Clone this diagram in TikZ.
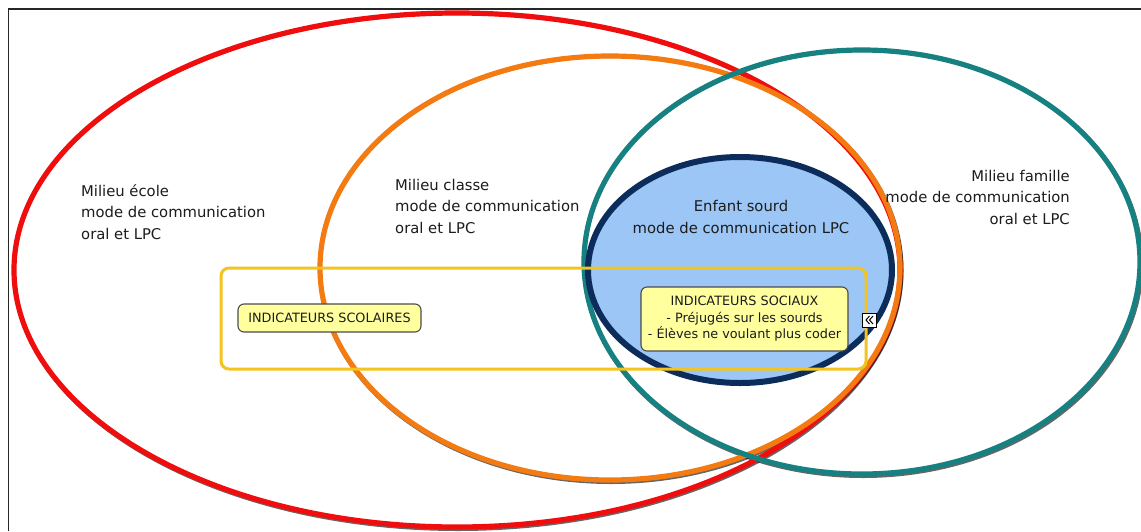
\documentclass[tikz,border=0pt]{standalone}
\usepackage{fontspec}
\setmainfont{DejaVu Sans}
\usetikzlibrary{shapes.geometric}
\definecolor{ringred}{HTML}{F00D0D}
\definecolor{ringorange}{HTML}{F47A12}
\definecolor{ringteal}{HTML}{168180}
\definecolor{childnavy}{HTML}{0C2C5C}
\definecolor{childblue}{HTML}{9CC6F6}
\definecolor{bandyellow}{HTML}{F3C41E}
\definecolor{notefill}{HTML}{FFFF9E}
\definecolor{noteedge}{HTML}{4C4C4C}
\definecolor{txt}{HTML}{1C1C1C}
\begin{document}
\begin{tikzpicture}[x=1pt,y=-1pt,
  ring/.style={ellipse, inner sep=0pt, outer sep=0pt, line width=5.2pt},
  ringshadow/.style={ellipse, inner sep=0pt, outer sep=0pt, draw=black, draw opacity=0.6, line width=3pt},
  label/.style={inner sep=0pt, text=txt, font=\fontsize{14.8}{21.5}\selectfont},
  note/.style={draw=noteedge, fill=notefill, line width=1.1pt, rounded corners=6pt,
    inner sep=0pt, text=txt, font=\fontsize{12.8}{16.5}\selectfont, align=center}]
\useasboundingbox (0,0) rectangle (1141,531);
\fill[white] (0,0) rectangle (1141,531);

% frame (only the top and left edges fall inside the page)
\draw[line width=1.5pt, black!85] (8.5,531) -- (8.5,9) -- (1141,9);

% soft shadows of the three rings, pushed to the lower right
\node[ringshadow, minimum width=888pt, minimum height=516pt] (redsh) at (458,271.5) {};
\node[ringshadow, minimum width=582pt, minimum height=426pt] (orangesh) at (611,269.5) {};
\node[ringshadow, minimum width=558pt, minimum height=426pt] (tealsh) at (863,263.5) {};

% the three settings
\node[ring, draw=ringred, minimum width=886pt, minimum height=514pt] (ecole) at (457,270) {};
\node[ring, draw=ringorange, minimum width=580pt, minimum height=424pt] (classe) at (610,268) {};
\node[ring, draw=ringteal, minimum width=556pt, minimum height=424pt] (famille) at (862,262) {};

% the child
\node[ellipse, inner sep=0pt, outer sep=0pt, line width=6pt, draw=childnavy, fill=childblue,
  minimum width=304pt, minimum height=226pt] (enfant) at (740,270) {};

% indicator band
\node[draw=bandyellow, line width=3pt, rounded corners=8pt, inner sep=0pt,
  minimum width=645pt, minimum height=101pt] (band) at (543.5,318.5) {};

% labels (base anchor = baseline of the last line)
\node[label, anchor=base west, align=left] (tecole) at (81,239)
  {Milieu école\\mode de communication\\oral et LPC};
\node[label, anchor=base west, align=left] (tclasse) at (395,233)
  {Milieu classe\\mode de communication\\oral et LPC};
\node[label, anchor=base east, align=right] (tfamille) at (1070,224)
  {Milieu famille\\mode de communication\\oral et LPC};
\node[label, anchor=base, align=center] (tenfant) at (741,233)
  {Enfant sourd\\mode de communication LPC};

% indicator notes
\node[note, minimum width=183pt, minimum height=28pt] (scolaires) at (329.5,318)
  {INDICATEURS SCOLAIRES};
\node[note, minimum width=207pt, minimum height=64pt] (sociaux) at (744.5,319)
  {INDICATEURS SOCIAUX\\- Préjugés sur les sourds\\- Élèves ne voulant plus coder};

% collapse marker
\node[draw=black, line width=0.8pt, fill=white, minimum size=14pt, inner sep=0pt] (marker) at (869,320) {};
\draw[line width=1pt] (marker.center) ++(0.5,-4) -- ++(-3.5,4) -- ++(3.5,4);
\draw[line width=1pt] (marker.center) ++(4,-4) -- ++(-3.5,4) -- ++(3.5,4);
\end{tikzpicture}
\end{document}
